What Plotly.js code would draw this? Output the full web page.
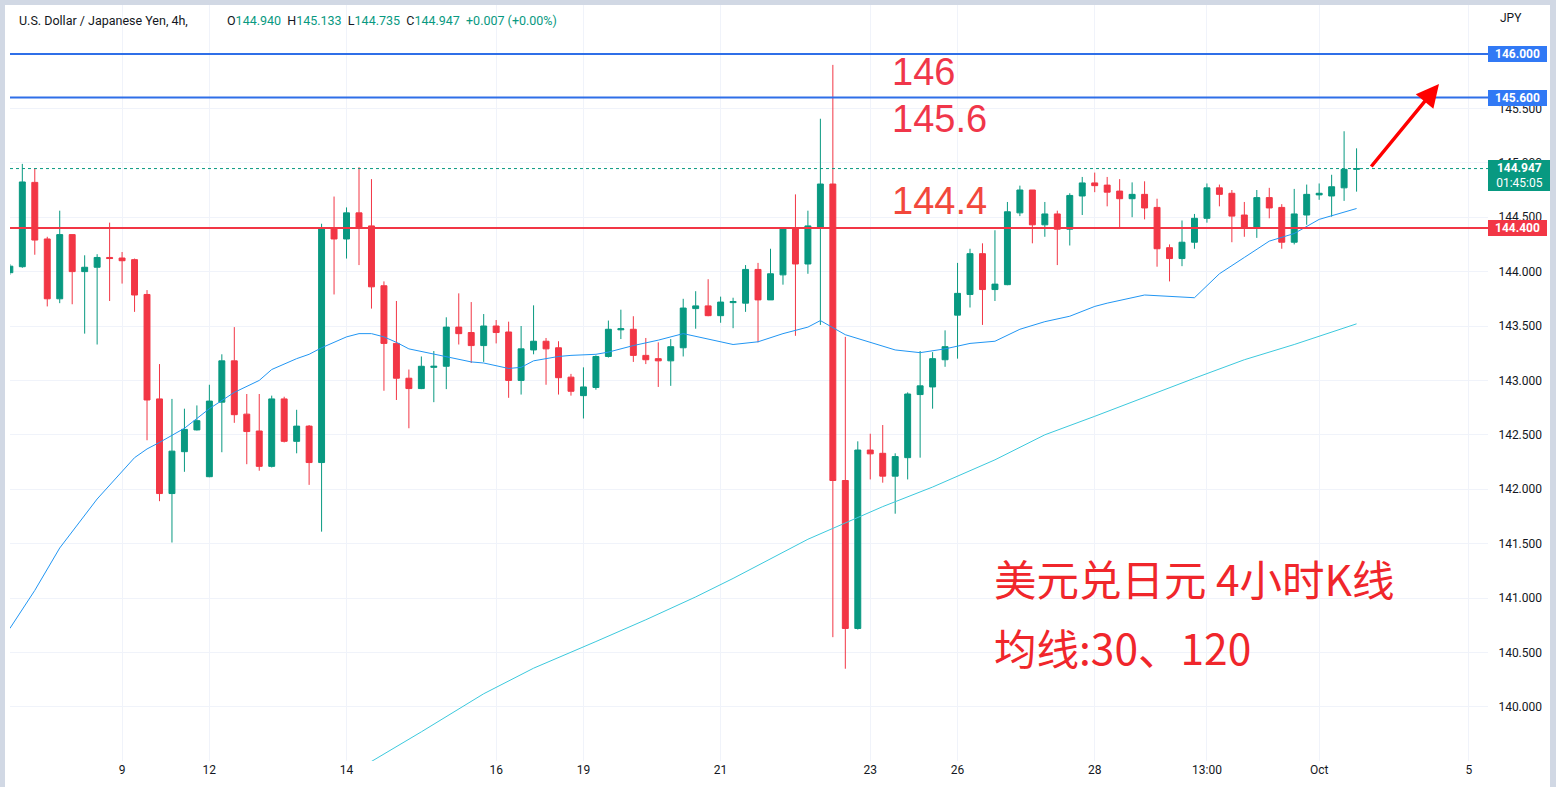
<!DOCTYPE html>
<html><head><meta charset="utf-8">
<script src="https://cdn.plot.ly/plotly-3.0.1.min.js"></script>
<style>
html,body{margin:0;padding:0;background:#fff;}
#wrap{position:relative;width:1556px;height:787px;background:#d1d8e4;overflow:hidden;}
#chart{position:absolute;left:5px;top:5px;width:1545px;height:782px;background:#fff;}
</style></head><body><div id="wrap"><div id="chart"></div></div>
<script>
// ---- data (USD/JPY 4h candles) ----
const openP = [143.99,144.045,144.82,144.30,143.75,144.34,144.00,144.04,144.13,144.125,
144.11,143.79,142.83,141.96,142.345,142.545,142.115,142.80,143.18,142.69,
142.535,142.21,142.83,142.44,142.58,142.245,144.40,144.30,144.54,144.42,
143.87,143.34,143.02,142.925,143.12,143.13,143.49,143.44,143.32,143.50,
143.445,143.00,143.28,143.36,143.30,143.03,142.86,142.935,143.22,143.465,
143.47,143.23,143.20,143.18,143.30,143.66,143.685,143.595,143.715,143.71,
144.02,143.74,143.97,144.40,144.07,144.41,144.805,142.08,140.72,142.36,
142.33,142.12,142.29,142.87,142.94,143.19,143.60,143.79,144.165,143.835,
143.88,144.54,144.75,144.43,144.53,144.39,144.695,144.815,144.795,144.74,
144.67,144.71,144.59,144.22,144.12,144.27,144.49,144.77,144.72,144.52,
144.40,144.68,144.59,144.27,144.52,144.705,144.695,144.77,144.940];
const highP = [144.07,144.99,144.95,144.32,144.56,144.34,144.15,144.16,144.45,144.18,
144.12,143.83,143.15,142.83,142.74,142.77,142.96,143.24,143.49,142.875,
142.875,142.86,142.85,142.73,142.59,144.44,144.69,144.59,144.96,144.85,
143.91,143.73,143.10,143.22,143.27,143.58,143.80,143.72,143.61,143.555,
143.54,143.50,143.69,143.39,143.36,143.06,143.12,143.23,143.55,143.65,
143.59,143.39,143.35,143.38,143.75,143.82,143.93,143.77,143.76,144.06,
144.08,144.21,144.40,144.71,144.56,145.405,145.90,143.40,142.44,142.51,
142.59,142.33,142.89,143.27,143.26,143.46,144.08,144.21,144.26,144.38,
144.64,144.79,144.75,144.64,144.56,144.72,144.87,144.91,144.87,144.85,
144.82,144.83,144.67,144.25,144.47,144.53,144.81,144.80,144.75,144.64,
144.75,144.77,144.62,144.76,144.80,144.81,144.89,145.29,145.133];
const lowP = [143.97,144.035,144.155,143.68,143.71,143.70,143.43,143.33,143.73,143.89,
143.63,142.45,141.89,141.51,142.16,142.54,142.11,142.34,142.61,142.23,
142.17,142.20,142.43,142.33,142.04,141.61,143.79,144.12,144.06,143.66,
142.905,142.82,142.56,142.92,142.80,142.92,143.33,143.16,143.17,143.34,
142.84,142.87,143.24,142.96,142.87,142.86,142.65,142.915,143.21,143.38,
143.17,143.15,142.94,142.95,143.22,143.475,143.59,143.53,143.48,143.63,
143.35,143.74,143.88,143.41,143.98,143.51,140.64,140.35,140.71,142.09,
142.06,141.775,142.09,142.29,142.74,143.125,143.20,143.67,143.51,143.73,
143.875,144.51,144.26,144.32,144.06,144.24,144.52,144.73,144.60,144.40,
144.50,144.48,144.045,143.91,144.05,144.21,144.45,144.60,144.27,144.32,
144.31,144.49,144.21,144.25,144.43,144.66,144.505,144.65,144.735];
const closeP = [144.05,144.824,144.29,143.75,144.34,144.00,144.04,144.13,144.12,144.10,
143.785,142.82,141.96,142.35,142.55,142.63,142.81,143.18,142.685,142.53,
142.21,142.83,142.44,142.58,142.245,144.40,144.30,144.54,144.40,143.86,
143.34,143.02,142.925,143.13,143.13,143.49,143.43,143.32,143.50,143.44,
143.00,143.29,143.36,143.29,143.025,142.90,142.94,143.22,143.47,143.475,
143.23,143.19,143.18,143.31,143.665,143.685,143.595,143.72,143.725,144.02,
143.74,143.98,144.395,144.07,144.42,144.805,142.08,140.72,142.36,142.325,
142.12,142.30,142.875,142.95,143.20,143.31,143.80,144.165,143.835,143.885,
144.55,144.75,144.43,144.53,144.39,144.70,144.815,144.79,144.73,144.67,
144.71,144.585,144.21,144.12,144.27,144.49,144.77,144.71,144.51,144.40,
144.68,144.585,144.27,144.53,144.71,144.72,144.78,144.94,144.947];

// moving averages (candle index, value)
const ma30Idx = [0,2,4,7,10,11,12,14,16,18,20,21,23,24,25,26,27,28,29,30,31,32,34,35,37,38,40,41,42,44,45,47,48,50,52,54,56,58,60,62,64,65,67,69,71,73,75,77,79,81,83,85,87,88,91,95,97,99,101,103,105,108];
const ma30Val = [140.72,141.07,141.46,141.91,142.29,142.37,142.43,142.56,142.74,142.89,143.00,143.10,143.20,143.24,143.30,143.35,143.40,143.43,143.43,143.40,143.35,143.29,143.24,143.22,143.17,143.16,143.11,143.12,143.18,143.22,143.23,143.24,143.26,143.32,143.37,143.43,143.38,143.33,143.355,143.43,143.49,143.55,143.42,143.35,143.28,143.255,143.29,143.34,143.36,143.47,143.54,143.59,143.68,143.71,143.785,143.76,143.98,144.13,144.28,144.35,144.48,144.58];
const ma120Idx = [28,33,38,42,47,51,55,58,64,67,70,74,79,83,87,95,99,103,108];
const ma120Val = [139.43,139.77,140.12,140.355,140.60,140.80,141.01,141.18,141.54,141.69,141.84,142.02,142.27,142.50,142.67,143.02,143.19,143.33,143.52];

// axis labels
const xTickIdx = [9,16,27,39,46,57,69,76,87,96,105,117];
const xTickText = ['9','12','14','16','19','21','23','26','28','13:00','Oct','5'];
const levelVals = [146.0, 145.6, 144.4];
const levelText = ['146', '145.6', '144.4'];
const lastPrice = 144.947;
const countdown = '01:45:05';
const headerTitle = 'U.S. Dollar / Japanese Yen, 4h,';
const headerOHLC = [['O','144.940'],['H','145.133'],['L','144.735'],['C','144.947']];
const headerChange = '+0.007 (+0.00%)';
const noteLines = ['美元兑日元 4小时K线', '均线:30、120'];

// ---- drawing ----
const GREEN = '#089981', RED = '#f23645', BLUE = '#2f6fe8', BLUE_LBL = '#3179f5';
const idx = openP.map((_, i) => i);
const px = x => (x - 10) / 1478;
const py = y => (761 - y) / 756;

const traces = [
  {type:'candlestick', x: idx, open: openP, high: highP, low: lowP, close: closeP,
   increasing:{line:{color:GREEN,width:1}, fillcolor:GREEN},
   decreasing:{line:{color:RED,width:1}, fillcolor:RED},
   whiskerwidth:0, hoverinfo:'skip', showlegend:false},
  {type:'scatter', mode:'lines', x: ma30Idx, y: ma30Val, line:{color:'#2196f3', width:1}, hoverinfo:'skip', showlegend:false},
  {type:'scatter', mode:'lines', x: ma120Idx, y: ma120Val, line:{color:'#3cc9dd', width:1}, hoverinfo:'skip', showlegend:false}
];

const shapes = [
  {type:'line', xref:'paper', x0:0, x1:1, yref:'y', y0:levelVals[0], y1:levelVals[0], line:{color:BLUE, width:2}},
  {type:'line', xref:'paper', x0:0, x1:1, yref:'y', y0:levelVals[1], y1:levelVals[1], line:{color:BLUE, width:2}},
  {type:'line', xref:'paper', x0:0, x1:1, yref:'y', y0:levelVals[2], y1:levelVals[2], line:{color:RED, width:2}},
  {type:'line', xref:'paper', x0:0, x1:1, yref:'y', y0:lastPrice, y1:lastPrice, line:{color:GREEN, width:1, dash:'dot'}}
];

const ohlcHtml = headerOHLC.map(p => p[0] + '<span style="color:' + GREEN + '">' + p[1] + '</span>').join('  ')
  + '  <span style="color:' + GREEN + '">' + headerChange + '</span>';

const annotations = [
  {xref:'paper', yref:'paper', x:px(17), y:py(20), xanchor:'left', yanchor:'middle', showarrow:false,
   text: headerTitle, font:{size:12.5, color:'#131722', family:'Roboto'}},
  {xref:'paper', yref:'paper', x:px(225), y:py(20), xanchor:'left', yanchor:'middle', showarrow:false,
   text: ohlcHtml, font:{size:12.5, color:'#131722', family:'Roboto'}},
  {xref:'paper', yref:'paper', x:px(1498), y:py(18), xanchor:'left', yanchor:'middle', showarrow:false,
   text:'JPY', font:{size:12, color:'#131722', family:'Roboto'}},
  {xref:'paper', yref:'paper', x:px(890), y:py(72), xanchor:'left', yanchor:'middle', showarrow:false,
   text: levelText[0], font:{size:38, color:'#f0364a', family:'Liberation Sans, Arial'}},
  {xref:'paper', yref:'paper', x:px(890), y:py(119), xanchor:'left', yanchor:'middle', showarrow:false,
   text: levelText[1], font:{size:38, color:'#f0364a', family:'Liberation Sans, Arial'}},
  {xref:'paper', yref:'paper', x:px(890), y:py(201), xanchor:'left', yanchor:'middle', showarrow:false,
   text: levelText[2], font:{size:38, color:'#f2483c', family:'Liberation Sans, Arial'}},
  {xref:'paper', yref:'paper', x:px(992), y:py(577), xanchor:'left', yanchor:'middle', showarrow:false,
   text: noteLines[0], font:{size:42.5, color:'#f0262b', family:'Noto Sans CJK SC'}},
  {xref:'paper', yref:'paper', x:px(992), y:py(646), xanchor:'left', yanchor:'middle', showarrow:false,
   text: noteLines[1], font:{size:42.5, color:'#f0262b', family:'Noto Sans CJK SC'}},
  {xref:'paper', yref:'paper', x:px(1439), y:py(84), ax:-69, ay:84, text:'', showarrow:true,
   arrowhead:2, arrowsize:1.3, arrowwidth:3.5, arrowcolor:'#ff0000', standoff:0, startstandoff:0},
  // price scale labels
  {xref:'paper', yref:'y', x:1, y:levelVals[0], xanchor:'left', yanchor:'middle', showarrow:false,
   text:'<b>146.000</b>', bgcolor:BLUE_LBL, width:55, height:12, borderpad:2, borderwidth:0, align:'center',
   font:{size:12, color:'#ffffff', family:'Roboto'}},
  {xref:'paper', yref:'y', x:1, y:levelVals[1], xanchor:'left', yanchor:'middle', showarrow:false,
   text:'<b>145.600</b>', bgcolor:BLUE_LBL, width:55, height:12, borderpad:2, borderwidth:0, align:'center',
   font:{size:12, color:'#ffffff', family:'Roboto'}},
  {xref:'paper', yref:'y', x:1, y:levelVals[2], xanchor:'left', yanchor:'middle', showarrow:false,
   text:'<b>144.400</b>', bgcolor:RED, width:55, height:12, borderpad:2, borderwidth:0, align:'center',
   font:{size:12, color:'#ffffff', family:'Roboto'}},
  {xref:'paper', yref:'y', x:1, y:lastPrice, xanchor:'left', yanchor:'top', yshift:8.5, showarrow:false,
   text:'<b>' + lastPrice.toFixed(3) + '</b><br>' + countdown, bgcolor:GREEN, width:59, height:27, borderpad:2, borderwidth:0, align:'center',
   font:{size:12, color:'#ffffff', family:'Roboto'}}
];

const layout = {
  width:1545, height:782,
  margin:{l:5, r:62, t:0, b:26, pad:0},
  paper_bgcolor:'#ffffff', plot_bgcolor:'#ffffff',
  font:{family:'Roboto', size:12, color:'#131722'},
  showlegend:false, hovermode:false, dragmode:false,
  boxgap:0.32,
  xaxis:{type:'linear', range:[0.012, 118.54], tickvals:xTickIdx, ticktext:xTickText,
    showgrid:true, gridcolor:'#f0f3fa', gridwidth:1, zeroline:false, showline:false, ticks:'',
    tickfont:{size:12, color:'#131722'}, rangeslider:{visible:false}, fixedrange:true},
  yaxis:{side:'right', range:[139.502, 146.4504], tick0:140, dtick:0.5, tickformat:'.3f',
    showgrid:true, gridcolor:'#f0f3fa', gridwidth:1, zeroline:false, showline:false,
    ticks:'outside', ticklen:7, tickcolor:'rgba(0,0,0,0)', tickfont:{size:12, color:'#131722'}, fixedrange:true},
  shapes: shapes,
  annotations: annotations
};

Plotly.newPlot('chart', traces, layout, {displayModeBar:false, staticPlot:true});
</script></body></html>
